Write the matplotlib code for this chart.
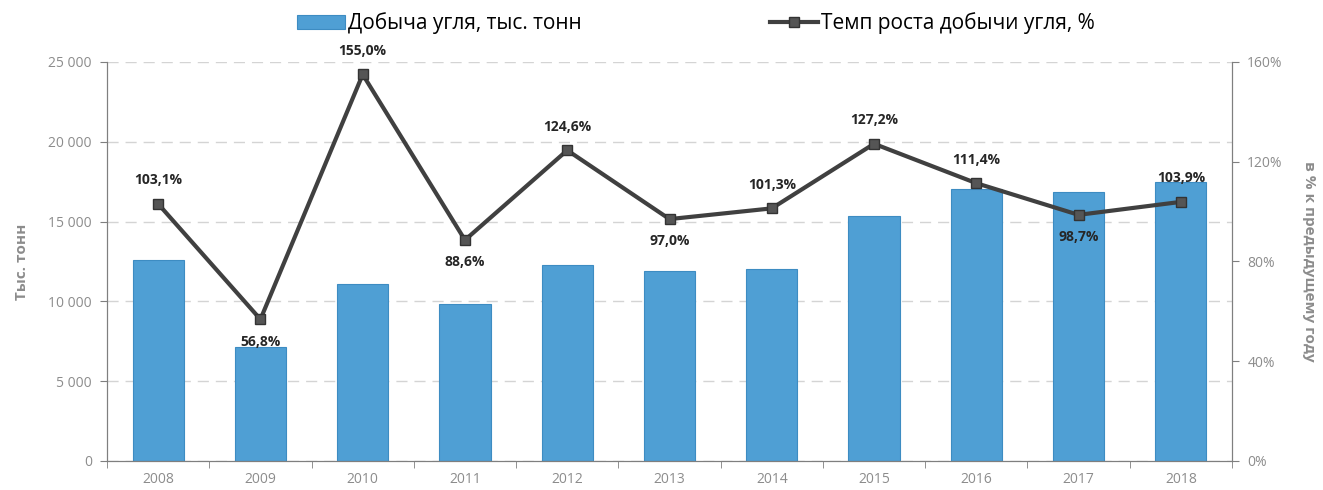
import numpy as np
import matplotlib.pyplot as plt
from matplotlib.ticker import FuncFormatter

plt.rcParams['font.family'] = ['Open Sans', 'DejaVu Sans']

years = ['2008', '2009', '2010', '2011', '2012', '2013', '2014', '2015', '2016', '2017', '2018']
production = [12610, 7160, 11100, 9840, 12260, 11890, 12050, 15320, 17070, 16850, 17510]  # тыс. тонн
growth = [103.1, 56.8, 155.0, 88.6, 124.6, 97.0, 101.3, 127.2, 111.4, 98.7, 103.9]  # %
label_above = [True, False, True, False, True, False, True, True, True, False, True]

grey = '#8c8c8c'
x = np.arange(len(years))

fig = plt.figure(figsize=(13.23, 4.9), dpi=100)
ax = fig.add_axes([0.0809, 0.0592, 0.8503, 0.8143])
ax2 = ax.twinx()

bars = ax.bar(x, production, width=0.5, color='#4f9fd4', edgecolor='#3d8cc2', linewidth=0.8,
              label='Добыча угля, тыс. тонн', zorder=2)
ax.set_xlim(-0.5, len(years) - 0.5)
ax.set_ylim(0, 25000)
ax.set_yticks(np.arange(0, 25001, 5000))
ax.yaxis.set_major_formatter(FuncFormatter(lambda v, p: f'{int(v):,}'.replace(',', ' ')))
ax.grid(axis='y', color='#d4d4d4', linestyle=(0, (8, 5)), linewidth=1, zorder=0)
ax.set_axisbelow(True)

# засечки между категориями, как в Excel
ax.set_xticks(x)
ax.set_xticklabels(years)
ax.set_xticks(np.arange(-0.5, len(years)), minor=True)
ax.tick_params(axis='x', which='major', length=0, colors=grey, labelsize=10, pad=8)
ax.tick_params(axis='x', which='minor', length=5, color='#7f7f7f')
ax.tick_params(axis='y', colors=grey, labelsize=10, length=5, pad=6)
ax.tick_params(axis='y', color='#7f7f7f')
ax.set_ylabel('Тыс. тонн', color=grey, fontsize=11, fontweight='bold', labelpad=14)

line, = ax2.plot(x, growth, color='#404040', linewidth=3, marker='s', markersize=7,
                 markerfacecolor='#555555', markeredgecolor='#333333',
                 label='Темп роста добычи угля, %', zorder=3)
ax2.set_ylim(0, 160)
ax2.set_yticks([0, 40, 80, 120, 160])
ax2.yaxis.set_major_formatter(FuncFormatter(lambda v, p: f'{int(v)}%'))
ax2.tick_params(axis='y', colors=grey, labelsize=10, length=5, pad=6)
ax2.tick_params(axis='y', color='#7f7f7f')
ax2.set_ylabel('в % к предыдущему году', color=grey, fontsize=11, fontweight='bold',
               rotation=-90, labelpad=24)

for xi, g, up in zip(x, growth, label_above):
    txt = f'{g:.1f}%'.replace('.', ',')
    ax2.annotate(txt, (xi, g), xytext=(0, 12 if up else -11), textcoords='offset points',
                 ha='center', va='bottom' if up else 'top', fontsize=10, fontweight='bold',
                 color='#262626')

for a in (ax, ax2):
    a.spines['top'].set_visible(False)
    for s in ('left', 'right', 'bottom'):
        a.spines[s].set_color('#7f7f7f')
ax.set_zorder(ax2.get_zorder() - 1)
ax2.patch.set_visible(False)

fig.legend(handles=[bars, line], loc='upper center', bbox_to_anchor=(0.526, 1.013), ncol=2,
           frameon=False, fontsize=15, columnspacing=9, handlelength=2.3, handletextpad=0.15)

fig.savefig('out.png', dpi=100)
